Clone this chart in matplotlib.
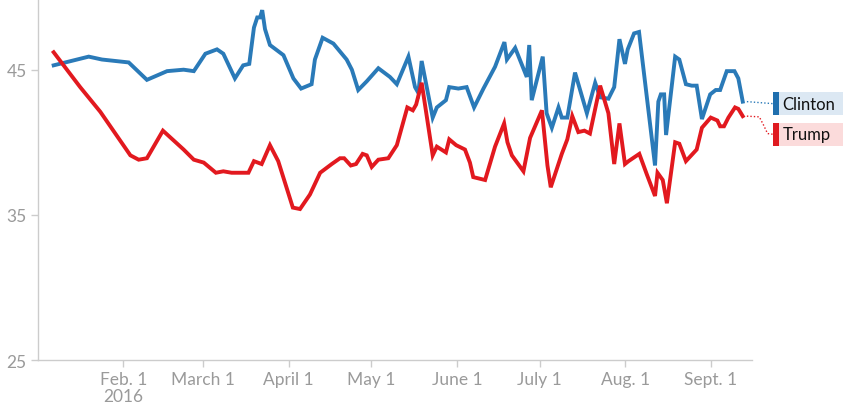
import matplotlib
matplotlib.use("Agg")
import matplotlib.pyplot as plt
import matplotlib.dates as mdates
from matplotlib.patches import Rectangle
import pandas as pd

# poll averages, days counted from Jan. 1 2016
clinton_days = [5.8, 18.5, 23.3, 33.0, 39.6, 46.9, 52.9, 56.6, 60.8, 65.0,
                67.3, 71.5, 74.5, 76.7, 78.4, 79.6, 80.6, 81.4, 82.4, 84.2,
                89.1, 92.7, 95.5, 99.3, 100.5, 103.3, 107.2, 112.0, 113.9, 116.2,
                119.3, 123.5, 127.7, 130.2, 134.4, 136.8, 138.0, 139.2, 143.2, 144.7,
                148.0, 149.2, 152.5, 155.5, 158.2, 161.6, 165.8, 169.2, 170.1, 173.1,
                177.3, 178.2, 179.1, 183.1, 184.5, 186.4, 188.8, 190.0, 192.0, 194.8,
                199.1, 202.1, 203.9, 206.9, 209.0, 210.9, 212.9, 213.9, 216.2, 218.0,
                223.8, 225.0, 225.9, 227.1, 227.8, 231.1, 232.6, 235.0, 237.1, 238.9,
                240.8, 243.8, 245.8, 247.4, 249.8, 252.6, 254.0, 255.6]
clinton = [45.3, 45.9, 45.7, 45.5, 44.3, 44.9, 45.0, 44.9, 46.1, 46.4,
           46.1, 44.4, 45.3, 45.4, 47.9, 48.6, 48.6, 49.1, 47.8, 46.7,
           46.0, 44.4, 43.7, 44.0, 45.7, 47.2, 46.8, 45.7, 45.0, 43.6,
           44.2, 45.1, 44.5, 44.0, 45.9, 43.8, 43.4, 45.6, 41.7, 42.4,
           42.9, 43.8, 43.7, 43.8, 42.4, 43.7, 45.2, 46.9, 45.7, 46.5,
           44.5, 46.7, 42.9, 45.9, 42.0, 41.0, 42.4, 41.7, 41.7, 44.8,
           42.0, 44.1, 43.1, 43.0, 43.8, 47.1, 45.4, 46.4, 47.5, 47.6,
           38.4, 42.8, 43.3, 43.3, 40.5, 45.9, 45.7, 44.0, 43.9, 43.9,
           41.6, 43.3, 43.6, 43.6, 44.9, 44.9, 44.4, 42.8]

trump_days = [5.8, 15.4, 22.7, 33.6, 36.6, 39.6, 45.4, 52.9, 56.6, 60.2,
              64.6, 67.3, 70.3, 76.4, 78.4, 81.2, 84.2, 87.2, 92.5, 95.1,
              98.7, 102.4, 106.6, 109.6, 111.1, 113.5, 115.4, 117.8, 119.3, 121.1,
              123.5, 127.1, 130.2, 134.0, 136.0, 137.2, 139.2, 143.2, 144.7, 148.0,
              149.2, 151.7, 154.9, 156.7, 157.9, 162.2, 165.8, 169.1, 170.3, 171.9,
              176.1, 178.5, 182.8, 184.8, 186.0, 190.0, 192.0, 193.8, 196.0, 198.2,
              200.2, 203.9, 206.9, 209.0, 210.9, 212.9, 214.2, 218.1, 220.8, 223.8,
              224.7, 226.6, 228.1, 231.1, 232.6, 235.0, 238.9, 240.8, 244.0, 246.4,
              247.4, 248.8, 250.4, 252.8, 254.0, 255.6]
trump = [46.2, 43.8, 42.1, 39.1, 38.8, 38.9, 40.8, 39.5, 38.8, 38.6,
         37.9, 38.0, 37.9, 37.9, 38.7, 38.5, 39.8, 38.7, 35.5, 35.4,
         36.4, 37.9, 38.5, 38.9, 38.9, 38.4, 38.5, 39.2, 39.1, 38.3,
         38.8, 38.9, 39.8, 42.4, 42.2, 42.6, 44.1, 39.1, 39.7, 39.3,
         40.2, 39.8, 39.5, 38.6, 37.6, 37.4, 39.7, 41.3, 40.0, 39.1,
         38.0, 40.3, 42.2, 38.4, 36.9, 39.2, 40.2, 41.8, 40.7, 40.8,
         40.6, 43.9, 42.0, 38.5, 41.3, 38.5, 38.7, 39.2, 37.8, 36.3,
         37.9, 37.4, 35.8, 40.0, 39.9, 38.7, 39.5, 41.0, 41.7, 41.5,
         41.1, 41.1, 41.7, 42.4, 42.3, 41.8]

tick_dates = ["2016-02-01", "2016-03-01", "2016-04-01", "2016-05-01",
              "2016-06-01", "2016-07-01", "2016-08-01", "2016-09-01"]
tick_labels = ["Feb. 1\n2016", "March 1", "April 1", "May 1",
               "June 1", "July 1", "Aug. 1", "Sept. 1"]
y_ticks = [25, 35, 45]

BLUE = "#2a7ab8"
RED = "#e2191f"
GREY = "#9a9a9a"
tick_font = ["Lato", "DejaVu Sans"]

base = pd.Timestamp("2016-01-01")
c_dates = base + pd.to_timedelta(clinton_days, unit="D")
t_dates = base + pd.to_timedelta(trump_days, unit="D")

fig = plt.figure(figsize=(8.43, 4.14), dpi=100)
ax = fig.add_axes([0.0447, 0.128, 0.8475, 0.872])

ax.plot(c_dates, clinton, color=BLUE, lw=2.8, solid_joinstyle="miter")
ax.plot(t_dates, trump, color=RED, lw=2.8, solid_joinstyle="miter")

ax.set_xlim(base, base + pd.Timedelta(days=259))
ax.set_ylim(25, 49.87)

for s in ["top", "right"]:
    ax.spines[s].set_visible(False)
for s in ["left", "bottom"]:
    ax.spines[s].set_color("#cccccc")
    ax.spines[s].set_linewidth(1)

ax.set_xticks(pd.to_datetime(tick_dates))
ax.set_xticklabels(tick_labels, fontfamily=tick_font, fontsize=12.5, color=GREY,
                   linespacing=1.05)
ax.set_yticks(y_ticks)
ax.set_yticklabels([str(v) for v in y_ticks], fontfamily=tick_font, fontsize=12.5,
                   color=GREY)
ax.tick_params(axis="both", color="#cccccc", length=5, width=1, pad=3)

# end labels with dotted leaders
last_c = (c_dates[-1], clinton[-1])
last_t = (t_dates[-1], trump[-1])
lab_x = base + pd.Timedelta(days=266.6)
c_y = 42.66
t_y = 40.55
box_h = 1.58

ax.plot([last_c[0] + pd.Timedelta(days=1.5), lab_x], [last_c[1], c_y],
        color=BLUE, lw=1, ls=(0, (1, 1.5)), clip_on=False)
mid = last_t[0] + pd.Timedelta(days=6)
ax.plot([last_t[0] + pd.Timedelta(days=1.5), mid, mid + pd.Timedelta(days=1.5),
         mid + pd.Timedelta(days=3), lab_x],
        [last_t[1], last_t[1] - 0.05, last_t[1] - 0.6, t_y + 0.05, t_y],
        color=RED, lw=1, ls=(0, (1, 1.5)), clip_on=False)

for y, dark, light, name in [(c_y, "#1f6fae", "#dce8f3", "Clinton"),
                             (t_y, "#df1a20", "#fbdbdb", "Trump")]:
    x0 = mdates.date2num(lab_x)
    ax.add_patch(Rectangle((x0, y - box_h / 2), 30, box_h, facecolor=light,
                           edgecolor="none", clip_on=False))
    ax.add_patch(Rectangle((x0, y - box_h / 2), 2.2, box_h, facecolor=dark,
                           edgecolor="none", clip_on=False))
    ax.text(x0 + 3.4, y, name, fontfamily=["Lato", "DejaVu Sans"], fontsize=12,
            color="#111111", va="center", ha="left", clip_on=False)

fig.savefig("out.png", dpi=100)
